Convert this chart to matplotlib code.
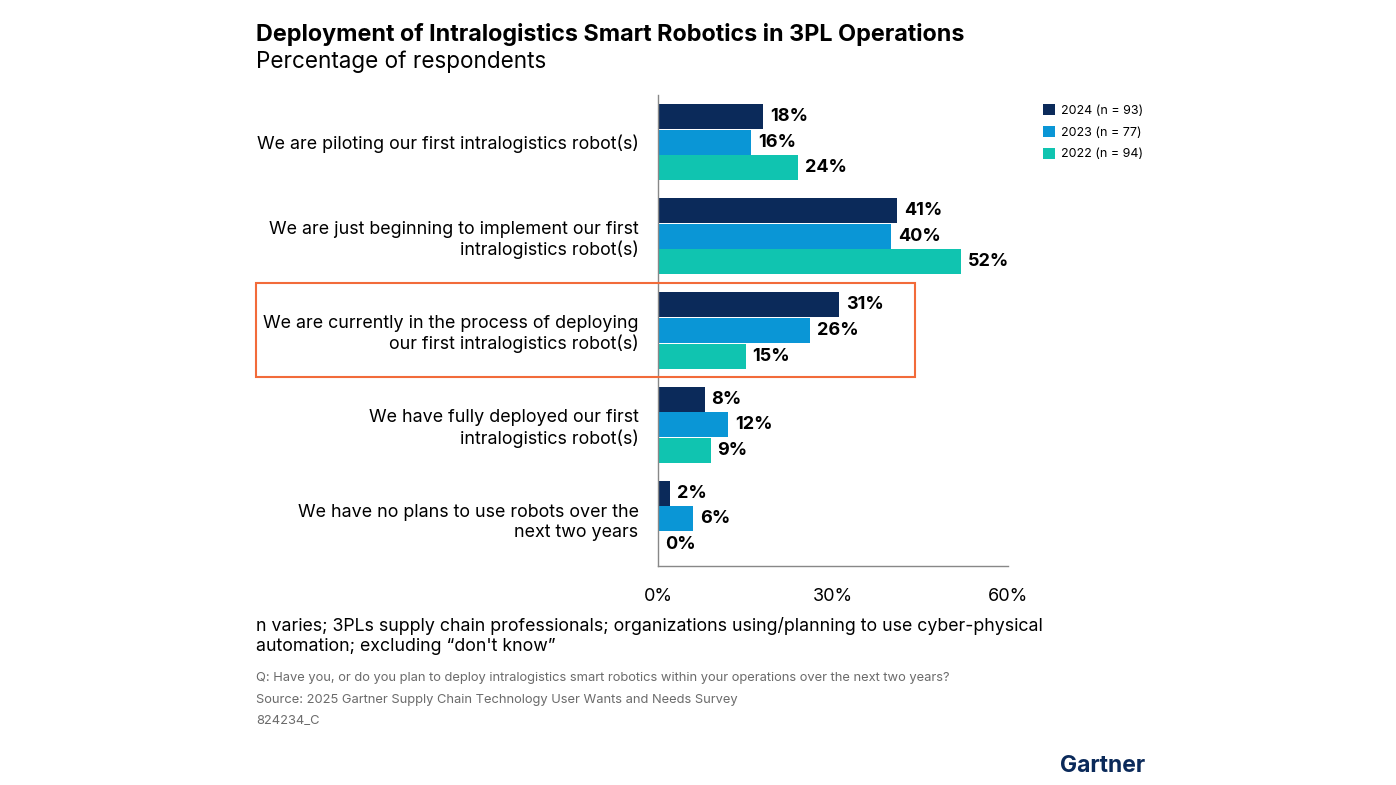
import matplotlib.pyplot as plt
from matplotlib.patches import Rectangle
import numpy as np

plt.rcParams['font.family'] = ['Inter', 'DejaVu Sans']

# データ
categories = [
    "We are piloting our first intralogistics robot(s)",
    "We are just beginning to implement our first\nintralogistics robot(s)",
    "We are currently in the process of deploying\nour first intralogistics robot(s)",
    "We have fully deployed our first\nintralogistics robot(s)",
    "We have no plans to use robots over the\nnext two years",
]
series_names = ["2024 (n = 93)", "2023 (n = 77)", "2022 (n = 94)"]
values_2024 = [18, 41, 31, 8, 2]
values_2023 = [16, 40, 26, 12, 6]
values_2022 = [24, 52, 15, 9, 0]
colors = ["#0b2a5a", "#0a96d6", "#10c4b0"]
xticks = [0, 30, 60]

fig = plt.figure(figsize=(13.96, 7.85), dpi=100)
ax = fig.add_axes([658 / 1396, 1 - 566 / 785, 350 / 1396, 471 / 785])

y = np.arange(len(categories))
h = 0.265
series = [values_2024, values_2023, values_2022]
for i, (vals, c, name) in enumerate(zip(series, colors, series_names)):
    pos = y + (i - 1) * (h + 0.006)
    bars = ax.barh(pos, vals, height=h, color=c, label=name)
    for b, v in zip(bars, vals):
        ax.annotate(f"{v}%", (b.get_width(), b.get_y() + b.get_height() / 2),
                    xytext=(5, 0), textcoords="offset points",
                    va="center", ha="left", fontsize=13, fontweight="bold")

ax.set_xlim(0, 60)
ax.set_ylim(len(categories) - 0.5, -0.5)
ax.set_xticks(xticks)
ax.set_xticklabels([f"{t}%" for t in xticks], fontsize=13)
ax.tick_params(axis="x", length=0, pad=16)
ax.set_yticks(y)
ax.set_yticklabels(categories, fontsize=12.9, linespacing=1.22)
ax.tick_params(axis="y", length=0, pad=14)
for s in ["top", "right"]:
    ax.spines[s].set_visible(False)
for s in ["left", "bottom"]:
    ax.spines[s].set_color("#888888")
    ax.spines[s].set_linewidth(1)

# 凡例
leg = ax.legend(loc="upper left", bbox_to_anchor=(1.068, 1.004), frameon=False,
                fontsize=9, handlelength=0.95, handleheight=0.95,
                handletextpad=0.5, labelspacing=0.72)

# ハイライト枠
fig.patches.append(Rectangle((256 / 1396, 1 - 377 / 785), (915 - 256) / 1396, 94 / 785,
                             transform=fig.transFigure, fill=False,
                             edgecolor="#f26b3a", linewidth=1.5))

# タイトル
fig.text(256 / 1396, 1 - 34 / 785, "Deployment of Intralogistics Smart Robotics in 3PL Operations",
         fontsize=16.8, fontweight="bold", va="center")
fig.text(256 / 1396, 1 - 62 / 785, "Percentage of respondents", fontsize=16.2, va="center")

# 注記
fig.text(256 / 1396, 1 - 636 / 785,
         "n varies; 3PLs supply chain professionals; organizations using/planning to use cyber-physical\n"
         "automation; excluding \u201cdon't know\u201d",
         fontsize=12.8, va="center", linespacing=1.3)
grey = "#6b6b6b"
fig.text(256 / 1396, 1 - 678 / 785,
         "Q: Have you, or do you plan to deploy intralogistics smart robotics within your operations over the next two years?",
         fontsize=9.3, color=grey, va="center")
fig.text(256 / 1396, 1 - 700 / 785, "Source: 2025 Gartner Supply Chain Technology User Wants and Needs Survey",
         fontsize=9.3, color=grey, va="center")
fig.text(256 / 1396, 1 - 721 / 785, "824234_C", fontsize=9.3, color=grey, va="center")

fig.text(1145 / 1396, 1 - 766 / 785, "Gartner", fontsize=16.5, fontweight="bold",
         color="#0b2a5a", ha="right", va="center")

fig.savefig("out.png", dpi=100)
